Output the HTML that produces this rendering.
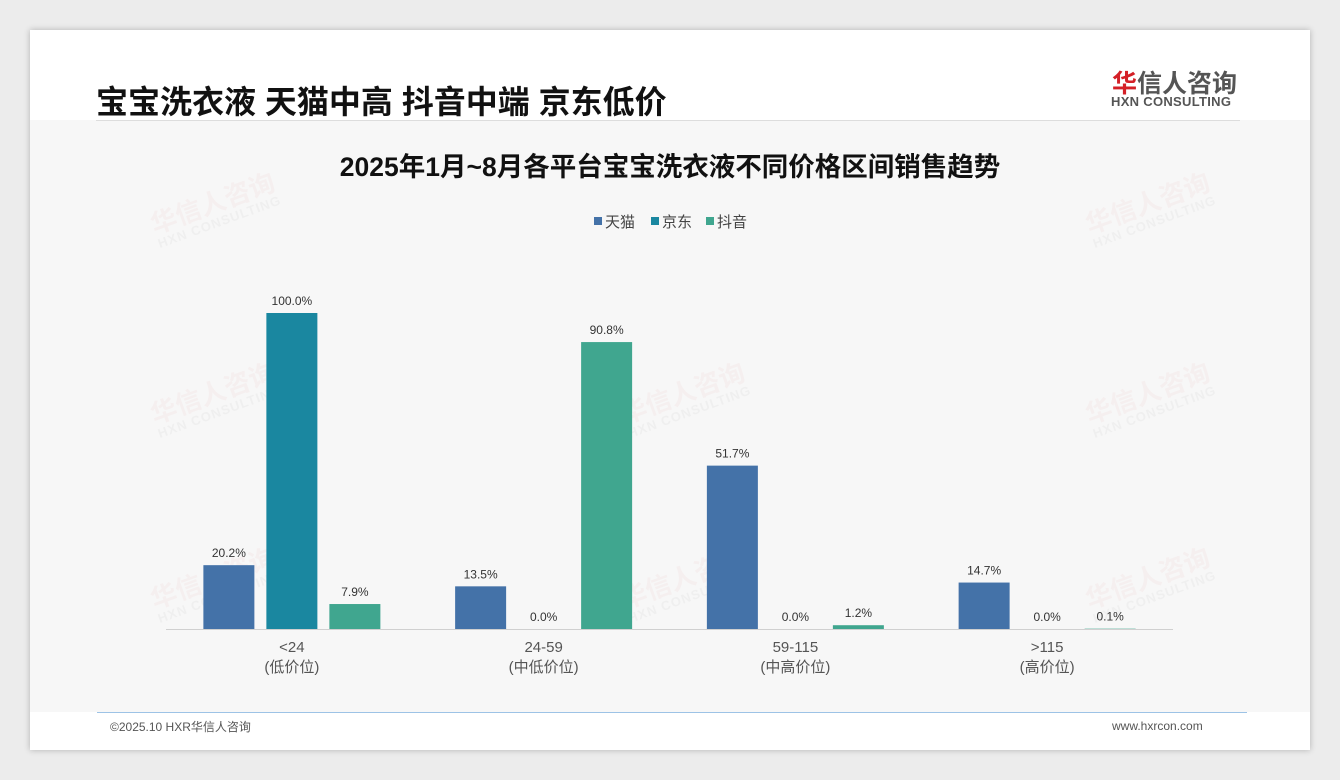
<!DOCTYPE html>
<html><head><meta charset="utf-8"><style>
body{margin:0;width:1340px;height:780px;background:#ececec;font-family:"Liberation Sans","Noto Sans CJK SC",sans-serif;position:relative;overflow:hidden}
.card{position:absolute;left:30px;top:30px;width:1280px;height:720px;background:#fff;box-shadow:0 0 6px rgba(0,0,0,.25)}
.wm{position:absolute;transform:rotate(-20deg);color:rgba(220,120,120,.06);font-size:26px;font-weight:bold;line-height:1}
.wm span{display:block;font-size:13px;color:rgba(150,150,150,.08);letter-spacing:1px}
</style></head><body>
<div class="card">
<div style="position:absolute;left:0;top:90px;width:1280px;height:592px;background:#f7f7f7"></div>
<div style="position:absolute;left:66px;top:47px;font-size:32px;font-weight:bold;color:#111">宝宝洗衣液 天猫中高 抖音中端 京东低价</div>
<div style="position:absolute;left:66px;top:90px;width:1144px;height:1px;background:#ddd"></div>
<div style="position:absolute;left:1082px;top:34px;font-size:25px;font-weight:bold;color:#555"><span style="color:#d42027">华</span>信人咨询</div>
<div style="position:absolute;left:1081px;top:64px;font-size:13px;font-weight:bold;color:#555;letter-spacing:.3px">HXN CONSULTING</div>
<div style="position:absolute;left:67px;top:682px;width:1150px;height:1px;background:#9dc3e6"></div>
<div style="position:absolute;left:80px;top:688px;font-size:12px;color:#555">©2025.10 HXR华信人咨询</div>
<div style="position:absolute;left:1082px;top:689px;font-size:12px;color:#555">www.hxrcon.com</div>
</div>
<div class="wm" style="left:150px;top:190px">华信人咨询<span>HXN CONSULTING</span></div>
<div class="wm" style="left:1085px;top:190px">华信人咨询<span>HXN CONSULTING</span></div>
<div class="wm" style="left:150px;top:380px">华信人咨询<span>HXN CONSULTING</span></div>
<div class="wm" style="left:620px;top:380px">华信人咨询<span>HXN CONSULTING</span></div>
<div class="wm" style="left:1085px;top:380px">华信人咨询<span>HXN CONSULTING</span></div>
<div class="wm" style="left:150px;top:565px">华信人咨询<span>HXN CONSULTING</span></div>
<div class="wm" style="left:620px;top:565px">华信人咨询<span>HXN CONSULTING</span></div>
<div class="wm" style="left:1085px;top:565px">华信人咨询<span>HXN CONSULTING</span></div>
<svg id="chart" width="1340" height="780" style="position:absolute;left:0;top:0"></svg>
<script>
const categories=["<24","24-59","59-115",">115"];
const subLabels=["(低价位)","(中低价位)","(中高价位)","(高价位)"];
const seriesNames=["天猫","京东","抖音"];
const tmall=[20.2,13.5,51.7,14.7];
const jd=[100.0,0.0,0.0,0.0];
const douyin=[7.9,90.8,1.2,0.1];
const colors=["#4472a8","#1a87a0","#40a68f"];
const svg=document.getElementById('chart');
const NS="http://www.w3.org/2000/svg";
const x0=166,x1=1173,base=629,top100=313;
const gw=(x1-x0)/categories.length;
const y=v=>base-(base-top100)*v/100;
function mk(t,a,txt){const e=document.createElementNS(NS,t);for(const k in a)e.setAttribute(k,a[k]);if(txt!==undefined)e.textContent=txt;svg.appendChild(e);return e;}
let t=mk('text',{x:670,y:176,'text-anchor':'middle','font-size':26.5,'font-weight':'bold',fill:'#111'},'2025年1月~8月各平台宝宝洗衣液不同价格区间销售趋势');


const lx=[594,651,706];
seriesNames.forEach((n,i)=>{
 const r=mk('rect',{x:lx[i],y:217,width:8,height:8,fill:colors[i]});
 
 
 const tx=mk('text',{x:lx[i]+11,y:227,'font-size':15,fill:'#444'},n);
 
 
});
const ax=mk('line',{x1:x0,x2:x1,y1:base+0.5,y2:base+0.5,stroke:'#d0d0d0'});


const series=[tmall,jd,douyin];
categories.forEach((c,ci)=>{
 const cx=x0+gw*(ci+0.5);
 series.forEach((s,si)=>{
  const bx=cx+(si-1)*63-25.5;
  const v=s[ci];
  const b=mk('rect',{x:bx,y:y(v),width:51,height:base-y(v),fill:colors[si]});
  
  
  const l=mk('text',{x:bx+25.5,y:y(v)-8,'text-anchor':'middle','font-size':12,fill:'#333'},v.toFixed(1)+'%');
  
  
 });
 const c1=mk('text',{x:cx,y:652,'text-anchor':'middle','font-size':15,fill:'#555'},c);
 
 
 const c2=mk('text',{x:cx,y:672,'text-anchor':'middle','font-size':15,fill:'#555'},subLabels[ci]);
 
 
});
</script>
</body></html>
